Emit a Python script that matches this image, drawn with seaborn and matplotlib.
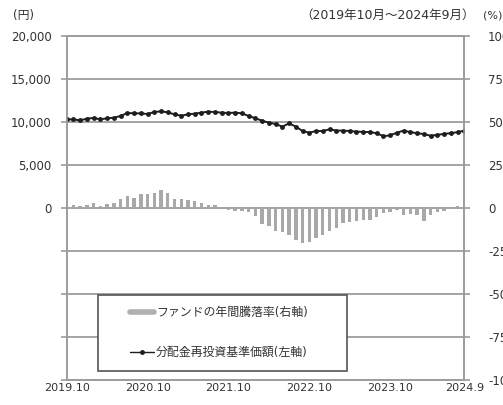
"""
ファンドの年間騰落率と分配金再投資基準価額の推移チャート
"""

import numpy as np
import pandas as pd
import matplotlib
matplotlib.use('Agg')
import matplotlib.pyplot as plt
from matplotlib.lines import Line2D
from matplotlib.legend_handler import HandlerLine2D
import seaborn as sns

# データ (2019年10月～2024年9月, 月次)
months = pd.period_range('2019-10', '2024-09', freq='M').strftime('%Y.%m').tolist()

# ファンドの年間騰落率 (%) - 右軸
fund_return = [1.5, 1.5, 1.0, 2.0, 3.0, 1.0, 2.5, 3.0, 5.0, 7.0,
               6.0, 8.0, 8.0, 8.5, 10.5, 8.5, 5.0, 5.0, 4.5, 4.0,
               3.0, 2.0, 1.5, 0.5, -1.0, -1.5, -2.0, -2.5, -4.5, -9.5,
               -10.5, -13.5, -14.0, -15.5, -18.5, -20.5, -19.5, -17.5, -15.5, -13.5,
               -11.5, -8.7, -8.0, -7.8, -6.8, -7.0, -5.0, -3.0, -2.5, -1.0,
               -3.9, -3.5, -4.0, -7.5, -4.0, -2.5, -1.5, -0.5, 1.0, 4.0]

# 分配金再投資基準価額 (円) - 左軸
nav = [10310, 10300, 10190, 10390, 10470, 10310, 10430, 10500, 10700, 11050,
       11010, 11000, 10930, 11160, 11240, 11120, 10890, 10730, 10890, 10970,
       11090, 11200, 11160, 11090, 11050, 11090, 11010, 10700, 10430, 10150,
       9920, 9770, 9460, 9840, 9460, 8950, 8760, 8950, 8950, 9150,
       9000, 9000, 8950, 8880, 8850, 8820, 8700, 8350, 8450, 8760,
       9000, 8820, 8700, 8600, 8400, 8500, 8620, 8700, 8820, 9000]

tick_pos = [0, 12, 24, 36, 48, 59]
tick_labels = ['2019.10', '2020.10', '2021.10', '2022.10', '2023.10', '2024.9']

yen_ticks = list(range(-20000, 20001, 5000))
yen_labels = [f'{v:,}' if v >= 0 else '' for v in yen_ticks]
pct_ticks = list(range(-100, 101, 25))

sns.set_theme(style='white')
plt.rcParams['font.family'] = ['DejaVu Sans', 'Noto Sans CJK JP']
plt.rcParams['axes.unicode_minus'] = False

df = pd.DataFrame({'idx': np.arange(len(months)), 'month': months,
                   'ret': fund_return, 'nav': nav})

fig = plt.figure(figsize=(5.03, 4.05), dpi=100)
ax = fig.add_axes([66.7 / 503, 1 - 380 / 405, (464.3 - 66.7) / 503, 344 / 405])

grid_c = '#9c9c9c'
text_c = '#333333'

# 棒グラフ (右軸, %)
sns.barplot(data=df, x='idx', y='ret', color='#a8a8a8', saturation=1,
            width=0.5, linewidth=0, ax=ax)
ax.set_ylim(-100, 100)
ax.set_yticks(pct_ticks)
ax.set_yticklabels([str(v) for v in pct_ticks])
ax.grid(axis='y', color=grid_c, linewidth=1.3)
ax.set_axisbelow(True)

# 折れ線 (左軸, 円)
ax2 = ax.twinx()
sns.lineplot(data=df, x='idx', y='nav', ax=ax2, color='#1e1e1e', linewidth=1.4,
             marker='o', markersize=3.5, markeredgewidth=0)
ax2.set_ylim(-20000, 20000)
ax2.set_yticks(yen_ticks)
ax2.set_yticklabels(yen_labels)

ax.yaxis.tick_right()
ax2.yaxis.tick_left()
ax.set_xlim(0, 59)
ax.set_xticks(tick_pos)
ax.set_xticklabels(tick_labels)

for a in (ax, ax2):
    a.set_xlabel('')
    a.set_ylabel('')
    for s in a.spines.values():
        s.set_color(grid_c)
        s.set_linewidth(1.2)

ax.tick_params(axis='x', length=0, pad=2, labelsize=8, labelcolor=text_c)
ax.tick_params(axis='y', right=True, left=False, length=4, width=1.2,
               color=grid_c, pad=13, labelsize=8.5, labelcolor=text_c)
ax2.tick_params(axis='y', left=True, right=False, length=4, width=1.2,
                color=grid_c, pad=7, labelsize=8.5, labelcolor=text_c)

# 凡例
handles = [Line2D([], [], color='#b0b0b0', linewidth=4),
           Line2D([], [], color='#1e1e1e', linewidth=1.0, marker='o',
                  markersize=2.5)]
labels = ['ファンドの年間騰落率(右軸)', '分配金再投資基準価額(左軸)']
leg = ax2.legend(handles, labels, loc='upper left',
                 bbox_to_anchor=(98 / 503, 1 - 367 / 405, 249 / 503, 72 / 405),
                 bbox_transform=fig.transFigure, mode='expand',
                 borderaxespad=0, borderpad=0.95, labelspacing=2.25,
                 handlelength=3.7, handletextpad=0.2, fontsize=8.6,
                 fancybox=False, framealpha=1, edgecolor='#555555',
                 handler_map={h: HandlerLine2D(xpad=1.7) for h in handles})
leg.get_frame().set_linewidth(1.2)
for t in leg.get_texts():
    t.set_color(text_c)

# 注記
fig.text(13 / 503, 1 - 15 / 405, '(円)', fontsize=8.5, color=text_c, va='center')
fig.text(475 / 503, 1 - 15 / 405, '（2019年10月～2024年9月）', fontsize=9,
         color=text_c, va='center', ha='right')
fig.text(483 / 503, 1 - 15 / 405, '(%)', fontsize=8, color=text_c, va='center')

fig.savefig('out.png', dpi=100)
plt.close(fig)
